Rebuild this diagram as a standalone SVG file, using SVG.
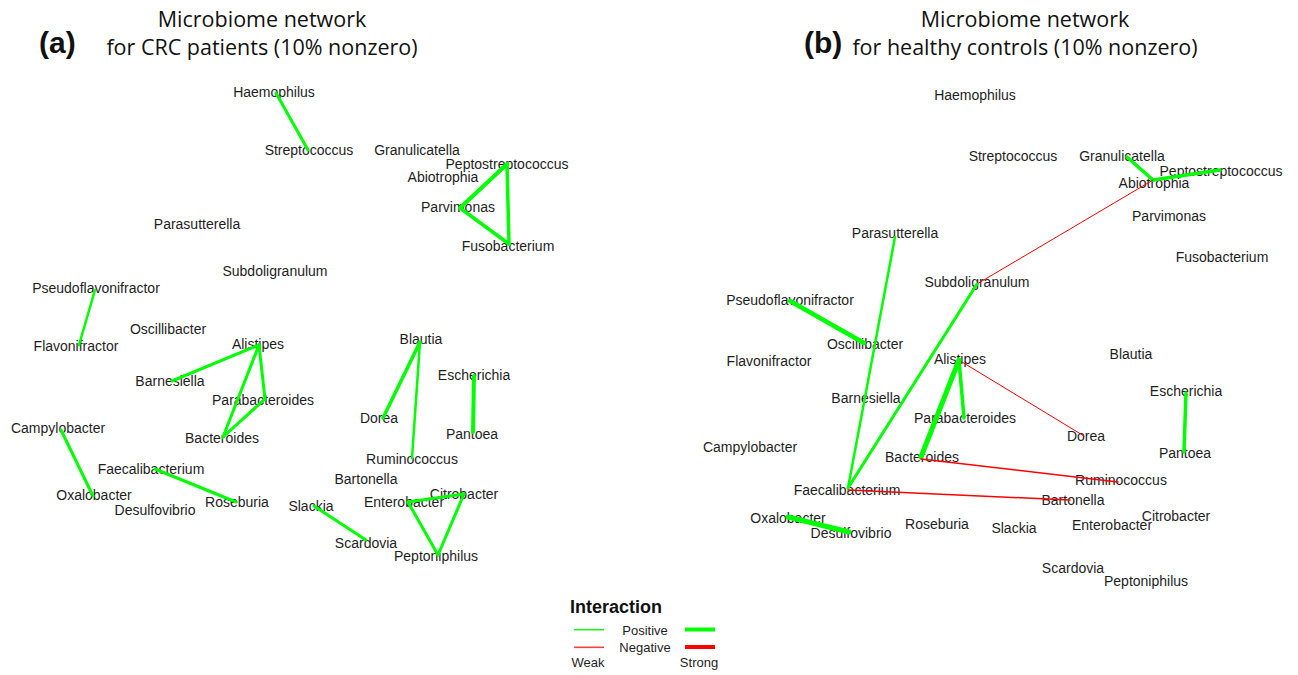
<svg xmlns="http://www.w3.org/2000/svg" width="1298" height="675" viewBox="0 0 1298 675">
<style>
  .lbl { font-family: "Liberation Sans", Arial, sans-serif; font-size: 14px; fill: #1e1e1e; text-anchor: middle; }
  .title { font-family: "Open Sans", "Noto Sans", sans-serif; font-size: 21.5px; fill: #111; text-anchor: middle; }
  .tag { font-family: "Liberation Sans", Arial, sans-serif; font-size: 30px; font-weight: bold; fill: #111; }
  .pos { stroke: #00ff00; stroke-linecap: round; fill: none; }
  .neg { stroke: #ff0000; stroke-linecap: round; fill: none; }
  .leg { font-family: "Liberation Sans", Arial, sans-serif; font-size: 13px; fill: #1e1e1e; text-anchor: middle; }
  .leghead { font-family: "Liberation Sans", Arial, sans-serif; font-size: 18px; font-weight: bold; fill: #111; }
</style>
<rect width="1298" height="675" fill="#ffffff"/>

<!-- panel titles -->
<g id="titles">
  <text class="tag" x="39" y="53">(a)</text>
  <text class="title" x="262" y="27">Microbiome network</text>
  <text class="title" x="262" y="55">for CRC patients (10% nonzero)</text>
  <text class="tag" x="804" y="53">(b)</text>
  <text class="title" x="1025" y="27">Microbiome network</text>
  <text class="title" x="1025" y="55">for healthy controls (10% nonzero)</text>
</g>

<!-- panel (a): CRC patients -->
<g id="panel-a">
  <g id="a-haemophilus"><text class="lbl" x="274" y="97">Haemophilus</text></g>
  <g id="a-streptococcus"><text class="lbl" x="309" y="155">Streptococcus</text></g>
  <g id="a-granulicatella"><text class="lbl" x="417" y="155">Granulicatella</text></g>
  <g id="a-peptostreptococcus"><text class="lbl" x="507" y="169">Peptostreptococcus</text></g>
  <g id="a-abiotrophia"><text class="lbl" x="443" y="182">Abiotrophia</text></g>
  <g id="a-parvimonas"><text class="lbl" x="458" y="212">Parvimonas</text></g>
  <g id="a-fusobacterium"><text class="lbl" x="508" y="251">Fusobacterium</text></g>
  <g id="a-parasutterella"><text class="lbl" x="197" y="229">Parasutterella</text></g>
  <g id="a-subdoligranulum"><text class="lbl" x="275" y="276">Subdoligranulum</text></g>
  <g id="a-pseudoflavonifractor"><text class="lbl" x="96" y="293">Pseudoflavonifractor</text></g>
  <g id="a-flavonifractor"><text class="lbl" x="76" y="351">Flavonifractor</text></g>
  <g id="a-oscillibacter"><text class="lbl" x="168" y="334">Oscillibacter</text></g>
  <g id="a-alistipes"><text class="lbl" x="258" y="349">Alistipes</text></g>
  <g id="a-barnesiella"><text class="lbl" x="170" y="386">Barnesiella</text></g>
  <g id="a-parabacteroides"><text class="lbl" x="263" y="405">Parabacteroides</text></g>
  <g id="a-bacteroides"><text class="lbl" x="222" y="443">Bacteroides</text></g>
  <g id="a-campylobacter"><text class="lbl" x="58" y="433">Campylobacter</text></g>
  <g id="a-faecalibacterium"><text class="lbl" x="151" y="474">Faecalibacterium</text></g>
  <g id="a-oxalobacter"><text class="lbl" x="94" y="500">Oxalobacter</text></g>
  <g id="a-desulfovibrio"><text class="lbl" x="155" y="515">Desulfovibrio</text></g>
  <g id="a-roseburia"><text class="lbl" x="237" y="507">Roseburia</text></g>
  <g id="a-blautia"><text class="lbl" x="421" y="344">Blautia</text></g>
  <g id="a-escherichia"><text class="lbl" x="474" y="380">Escherichia</text></g>
  <g id="a-dorea"><text class="lbl" x="379" y="423">Dorea</text></g>
  <g id="a-pantoea"><text class="lbl" x="472" y="439">Pantoea</text></g>
  <g id="a-ruminococcus"><text class="lbl" x="412" y="464">Ruminococcus</text></g>
  <g id="a-bartonella"><text class="lbl" x="366" y="484">Bartonella</text></g>
  <g id="a-enterobacter"><text class="lbl" x="404" y="507">Enterobacter</text></g>
  <g id="a-citrobacter"><text class="lbl" x="464" y="499">Citrobacter</text></g>
  <g id="a-slackia"><text class="lbl" x="311" y="511">Slackia</text></g>
  <g id="a-scardovia"><text class="lbl" x="366" y="548">Scardovia</text></g>
  <g id="a-peptoniphilus"><text class="lbl" x="436" y="561">Peptoniphilus</text></g>
</g>

<!-- panel (b): healthy controls -->
<g id="panel-b">
  <g id="b-haemophilus"><text class="lbl" x="975" y="100">Haemophilus</text></g>
  <g id="b-streptococcus"><text class="lbl" x="1013" y="161">Streptococcus</text></g>
  <g id="b-granulicatella"><text class="lbl" x="1122" y="161">Granulicatella</text></g>
  <g id="b-peptostreptococcus"><text class="lbl" x="1221" y="176">Peptostreptococcus</text></g>
  <g id="b-abiotrophia"><text class="lbl" x="1154" y="188">Abiotrophia</text></g>
  <g id="b-parvimonas"><text class="lbl" x="1169" y="221">Parvimonas</text></g>
  <g id="b-fusobacterium"><text class="lbl" x="1222" y="262">Fusobacterium</text></g>
  <g id="b-parasutterella"><text class="lbl" x="895" y="238">Parasutterella</text></g>
  <g id="b-subdoligranulum"><text class="lbl" x="977" y="287">Subdoligranulum</text></g>
  <g id="b-pseudoflavonifractor"><text class="lbl" x="790" y="305">Pseudoflavonifractor</text></g>
  <g id="b-oscillibacter"><text class="lbl" x="865" y="349">Oscillibacter</text></g>
  <g id="b-flavonifractor"><text class="lbl" x="769" y="366">Flavonifractor</text></g>
  <g id="b-alistipes"><text class="lbl" x="960" y="364">Alistipes</text></g>
  <g id="b-blautia"><text class="lbl" x="1131" y="359">Blautia</text></g>
  <g id="b-barnesiella"><text class="lbl" x="866" y="403">Barnesiella</text></g>
  <g id="b-parabacteroides"><text class="lbl" x="965" y="423">Parabacteroides</text></g>
  <g id="b-escherichia"><text class="lbl" x="1186" y="396">Escherichia</text></g>
  <g id="b-dorea"><text class="lbl" x="1086" y="441">Dorea</text></g>
  <g id="b-campylobacter"><text class="lbl" x="750" y="452">Campylobacter</text></g>
  <g id="b-pantoea"><text class="lbl" x="1185" y="458">Pantoea</text></g>
  <g id="b-bacteroides"><text class="lbl" x="922" y="462">Bacteroides</text></g>
  <g id="b-ruminococcus"><text class="lbl" x="1121" y="485">Ruminococcus</text></g>
  <g id="b-faecalibacterium"><text class="lbl" x="847" y="495">Faecalibacterium</text></g>
  <g id="b-bartonella"><text class="lbl" x="1073" y="505">Bartonella</text></g>
  <g id="b-citrobacter"><text class="lbl" x="1176" y="521">Citrobacter</text></g>
  <g id="b-oxalobacter"><text class="lbl" x="788" y="523">Oxalobacter</text></g>
  <g id="b-desulfovibrio"><text class="lbl" x="851" y="538">Desulfovibrio</text></g>
  <g id="b-roseburia"><text class="lbl" x="937" y="529">Roseburia</text></g>
  <g id="b-slackia"><text class="lbl" x="1014" y="533">Slackia</text></g>
  <g id="b-enterobacter"><text class="lbl" x="1112" y="530">Enterobacter</text></g>
  <g id="b-scardovia"><text class="lbl" x="1073" y="573">Scardovia</text></g>
  <g id="b-peptoniphilus"><text class="lbl" x="1146" y="586">Peptoniphilus</text></g>
</g>

<!-- interaction edges -->
<g id="connectors">
  <!-- panel (a) -->
  <line class="pos" stroke-width="3" x1="276" y1="93" x2="308" y2="150"/>
  <line class="pos" stroke-width="4" x1="507" y1="164" x2="460" y2="208"/>
  <line class="pos" stroke-width="3.5" x1="507" y1="164" x2="509" y2="244"/>
  <line class="pos" stroke-width="3.5" x1="460" y1="208" x2="509" y2="244"/>
  <line class="pos" stroke-width="2.5" x1="95" y1="290" x2="79" y2="345"/>
  <line class="pos" stroke-width="3" x1="259" y1="345" x2="172" y2="381"/>
  <line class="pos" stroke-width="3" x1="259" y1="345" x2="265" y2="399"/>
  <line class="pos" stroke-width="3" x1="259" y1="345" x2="223" y2="437"/>
  <line class="pos" stroke-width="3" x1="265" y1="399" x2="223" y2="437"/>
  <line class="pos" stroke-width="3" x1="61" y1="430" x2="93" y2="496"/>
  <line class="pos" stroke-width="3" x1="155" y1="469" x2="236" y2="502"/>
  <line class="pos" stroke-width="3.5" x1="420" y1="342" x2="383" y2="418"/>
  <line class="pos" stroke-width="2.5" x1="420" y1="342" x2="412" y2="458"/>
  <line class="pos" stroke-width="4" x1="474" y1="376" x2="473" y2="432"/>
  <line class="pos" stroke-width="3" x1="314" y1="506" x2="366" y2="540"/>
  <line class="pos" stroke-width="3" x1="408" y1="502" x2="464" y2="494"/>
  <line class="pos" stroke-width="3" x1="408" y1="502" x2="438" y2="555"/>
  <line class="pos" stroke-width="3" x1="464" y1="494" x2="438" y2="555"/>
  <!-- panel (b) -->
  <line class="pos" stroke-width="3.5" x1="1127" y1="157" x2="1153" y2="180"/>
  <line class="pos" stroke-width="3.5" x1="1153" y1="180" x2="1220" y2="170"/>
  <line class="neg" stroke-width="1" x1="1153" y1="180" x2="977" y2="284"/>
  <line class="pos" stroke-width="2.5" x1="895" y1="237" x2="848" y2="488"/>
  <line class="pos" stroke-width="3" x1="977" y1="284" x2="848" y2="488"/>
  <line class="pos" stroke-width="4.5" x1="790" y1="301" x2="864" y2="343"/>
  <line class="pos" stroke-width="3.5" x1="959" y1="360" x2="964" y2="418"/>
  <line class="pos" stroke-width="5" x1="959" y1="360" x2="921" y2="457"/>
  <line class="neg" stroke-width="1" x1="962" y1="362" x2="1084" y2="436"/>
  <line class="pos" stroke-width="3.5" x1="1186" y1="393" x2="1184" y2="452"/>
  <line class="neg" stroke-width="1.5" x1="921" y1="459" x2="1118" y2="482"/>
  <line class="neg" stroke-width="1.5" x1="848" y1="490" x2="1070" y2="500"/>
  <line class="pos" stroke-width="5" x1="788" y1="517" x2="849" y2="532"/>
</g>

<!-- legend -->
<g id="legend">
  <text class="leghead" x="570" y="613">Interaction</text>
  <rect x="574" y="629" width="30" height="1.4" fill="#00ff00"/>
  <rect x="574" y="646.5" width="30" height="1.6" fill="#ff4040"/>
  <rect x="685" y="627.5" width="30" height="4" fill="#00ff00"/>
  <rect x="685" y="645" width="30" height="4" fill="#ff0000"/>
  <text class="leg" x="645" y="635">Positive</text>
  <text class="leg" x="645" y="652">Negative</text>
  <text class="leg" x="588" y="667">Weak</text>
  <text class="leg" x="699" y="667">Strong</text>
</g>
</svg>
